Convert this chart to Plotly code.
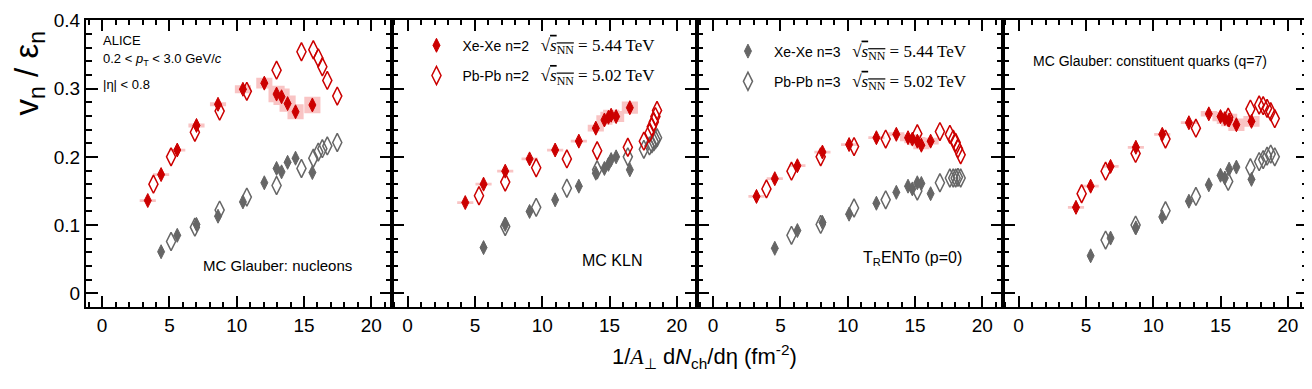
import plotly.graph_objects as go
from plotly.subplots import make_subplots

# model labels, one per panel
models = ["MC Glauber: nucleons", "MC KLN", "T<sub>R</sub>ENTo (p=0)",
          "MC Glauber: constituent quarks (q=7)"]

# Xe-Xe: 1/A dNch/deta per centrality class (n=3 uses classes 2..12)
xe_x = [
    [3.39, 4.38, 5.58, 7.01, 8.61, 10.46, 12.05, 12.96, 13.33, 13.78, 14.37, 15.62],
    [4.28, 5.64, 7.25, 9.06, 10.96, 12.72, 13.98, 14.62, 14.92, 15.12, 15.49, 16.51],
    [3.22, 4.58, 6.26, 8.12, 10.10, 12.13, 13.61, 14.48, 14.80, 15.17, 15.47, 16.16],
    [4.26, 5.35, 6.83, 8.71, 10.67, 12.65, 14.13, 15.00, 15.32, 15.64, 16.18, 17.30],
]
xe_v2 = [
    [0.136, 0.174, 0.210, 0.246, 0.277, 0.299, 0.308, 0.292, 0.288, 0.278, 0.266, 0.276],
    [0.133, 0.160, 0.179, 0.197, 0.210, 0.223, 0.242, 0.254, 0.258, 0.261, 0.259, 0.272],
    [0.142, 0.168, 0.187, 0.207, 0.218, 0.228, 0.233, 0.228, 0.226, 0.223, 0.217, 0.223],
    [0.126, 0.157, 0.186, 0.214, 0.233, 0.250, 0.263, 0.259, 0.256, 0.254, 0.247, 0.252],
]
xe_v2_sys = [
    [0.002, 0.002, 0.002, 0.003, 0.003, 0.006, 0.008, 0.012, 0.012, 0.012, 0.011, 0.012],
    [0.002, 0.002, 0.002, 0.002, 0.002, 0.002, 0.005, 0.007, 0.008, 0.008, 0.008, 0.009],
    [0.002, 0.002, 0.002, 0.002, 0.002, 0.002, 0.003, 0.005, 0.006, 0.006, 0.006, 0.005],
    [0.002, 0.002, 0.002, 0.002, 0.002, 0.002, 0.004, 0.007, 0.008, 0.009, 0.009, 0.008],
]
xe_v3 = [
    [0.061, 0.085, 0.101, 0.113, 0.134, 0.162, 0.183, 0.178, 0.192, 0.198, 0.177],
    [0.067, 0.101, 0.120, 0.137, 0.157, 0.176, 0.183, 0.189, 0.196, 0.200, 0.181],
    [0.066, 0.092, 0.104, 0.116, 0.132, 0.148, 0.157, 0.153, 0.162, 0.161, 0.146],
    [0.055, 0.081, 0.096, 0.112, 0.135, 0.159, 0.173, 0.169, 0.182, 0.185, 0.167],
]

# Pb-Pb
pb_x = [
    [3.81, 5.12, 6.89, 8.73, 10.75, 12.96, 14.81, 15.69, 16.06, 16.36, 16.73, 17.47],
    [5.30, 7.25, 9.55, 11.83, 14.08, 16.36, 17.55, 17.97, 18.14, 18.29, 18.41, 18.53],
    [3.96, 5.82, 7.99, 10.47, 12.82, 15.17, 16.85, 17.59, 17.84, 18.02, 18.19, 18.39],
    [4.68, 6.46, 8.69, 10.91, 13.17, 15.57, 17.22, 17.87, 18.17, 18.46, 18.73, 19.03],
]
pb_v2 = [
    [0.160, 0.200, 0.236, 0.267, 0.296, 0.327, 0.354, 0.357, 0.345, 0.332, 0.312, 0.289],
    [0.143, 0.163, 0.184, 0.197, 0.209, 0.214, 0.223, 0.235, 0.244, 0.251, 0.259, 0.268],
    [0.153, 0.179, 0.200, 0.215, 0.226, 0.234, 0.237, 0.233, 0.226, 0.221, 0.212, 0.203],
    [0.146, 0.179, 0.205, 0.226, 0.242, 0.258, 0.270, 0.276, 0.275, 0.271, 0.266, 0.256],
]
pb_v3 = [
    [0.076, 0.097, 0.122, 0.141, 0.158, 0.183, 0.198, 0.207, 0.212, 0.216, 0.221],
    [0.098, 0.126, 0.154, 0.181, 0.200, 0.211, 0.216, 0.219, 0.222, 0.225, 0.228],
    [0.085, 0.101, 0.125, 0.137, 0.150, 0.162, 0.169, 0.169, 0.169, 0.170, 0.169],
    [0.078, 0.100, 0.121, 0.142, 0.164, 0.184, 0.193, 0.196, 0.201, 0.204, 0.200],
]

RED = "#cc0000"
GREY = "#666666"
PINK = "#f9c4c4"
BOX_W = 0.6
FONT = "Liberation Sans, Arial, sans-serif"
SERIF = "Liberation Serif, Times New Roman, serif"
NB = "\u00a0"

# the page body adds an 8px margin, so the figure is laid out in page pixels minus 8
OFF = 8
W, H = 1312 - OFF, 389 - OFF
# plot area in page pixels
L, R, T, B = 86, 1310, 11, 307


def px(x, y):
    return (x - L) / (R - L), (B - y) / (B - T)


def sqrts(e):
    return (f"<span style='font-family:{SERIF};font-size:17px'>"
            f"√<span style='text-decoration:overline'><i>s</i><sub>NN</sub></span>"
            f" = {e} TeV</span>")


fig = make_subplots(rows=1, cols=4, shared_yaxes=True, horizontal_spacing=0)

for i in range(4):
    col = i + 1
    # systematic boxes for Xe-Xe v2
    bx, by = [], []
    for x, y, s in zip(xe_x[i], xe_v2[i], xe_v2_sys[i]):
        bx += [x - BOX_W, x + BOX_W, x + BOX_W, x - BOX_W, x - BOX_W, None]
        by += [y - s, y - s, y + s, y + s, y - s, None]
    fig.add_trace(go.Scatter(x=bx, y=by, fill="toself", fillcolor=PINK, mode="lines",
                             line=dict(width=0), showlegend=False, hoverinfo="skip"),
                  row=1, col=col)

    fig.add_trace(go.Scatter(x=pb_x[i][1:], y=pb_v3[i], mode="markers",
                             name="Pb-Pb n=3" + NB * 3 + sqrts("5.02"),
                             marker=dict(symbol="diamond-tall-open", size=13, color=GREY,
                                         line=dict(width=1.5, color=GREY)),
                             legend="legend2", legendgroup="pb3", legendrank=2,
                             showlegend=(i == 2)), row=1, col=col)
    fig.add_trace(go.Scatter(x=xe_x[i][1:], y=xe_v3[i], mode="markers",
                             name="Xe-Xe n=3" + NB * 3 + sqrts("5.44"),
                             marker=dict(symbol="diamond-tall", size=10, color=GREY,
                                         line=dict(width=1, color=GREY)),
                             legend="legend2", legendgroup="xe3", legendrank=1,
                             showlegend=(i == 2)), row=1, col=col)
    fig.add_trace(go.Scatter(x=pb_x[i], y=pb_v2[i], mode="markers",
                             name="Pb-Pb n=2" + NB * 3 + sqrts("5.02"),
                             marker=dict(symbol="diamond-tall-open", size=13, color=RED,
                                         line=dict(width=1.5, color=RED)),
                             legend="legend", legendgroup="pb2", legendrank=2,
                             showlegend=(i == 1)), row=1, col=col)
    fig.add_trace(go.Scatter(x=xe_x[i], y=xe_v2[i], mode="markers",
                             name="Xe-Xe n=2" + NB * 3 + sqrts("5.44"),
                             marker=dict(symbol="diamond-tall", size=10, color=RED,
                                         line=dict(width=1, color=RED)),
                             legend="legend", legendgroup="xe2", legendrank=1,
                             showlegend=(i == 1)), row=1, col=col)

fig.update_xaxes(range=[-1.2, 21.5], dtick=5, tick0=0, ticks="inside", ticklen=11,
                 tickwidth=1.5, tickcolor="black", showline=True, linewidth=2,
                 linecolor="black", mirror="allticks", showgrid=False, zeroline=False,
                 minor=dict(dtick=1, ticks="inside", ticklen=5, tickcolor="black"),
                 tickfont=dict(size=19, color="black", family=FONT))
fig.update_yaxes(range=[-0.02, 0.4005], dtick=0.1, tick0=0, ticks="inside", ticklen=12,
                 tickwidth=1.5, tickcolor="black", showline=True, linewidth=2,
                 linecolor="black", mirror="allticks", showgrid=False, zeroline=False,
                 ticklabeloverflow="allow",
                 minor=dict(dtick=0.02, ticks="inside", ticklen=6, tickcolor="black"),
                 tickfont=dict(size=19, color="black", family=FONT))

ann = []
# ALICE block
for txt, yy in [("ALICE", 32), ("0.2 &lt; <i>p</i><sub>T</sub> &lt; 3.0 GeV/<i>c</i>", 52),
                ("|η| &lt; 0.8", 78)]:
    ax, ay = px(101, yy)
    ann.append(dict(text=txt, x=ax, y=ay, xanchor="left", yanchor="middle",
                    font=dict(size=13)))
for txt, xx, yy, anchor, size in [(models[0], 354, 264, "right", 15),
                                  (models[1], 613, 259, "center", 16),
                                  (models[2], 914, 257, "center", 16),
                                  (models[3], 1152, 53, "center", 14)]:
    ax, ay = px(xx, yy)
    ann.append(dict(text=txt, x=ax, y=ay, xanchor=anchor, yanchor="middle",
                    font=dict(size=size)))
# axis titles
ax, ay = px(29, 66)
ann.append(dict(text="v<sub>n</sub> / ε<sub>n</sub>", x=ax, y=ay, textangle=-90,
                xanchor="center", yanchor="middle", font=dict(size=33)))
ax, ay = px(706, 358)
ann.append(dict(text="1/<i><span style='font-family:" + SERIF + "'>A</span></i><sub>⊥</sub>"
                     " d<i>N</i><sub>ch</sub>/dη (fm<sup>-2</sup>)",
                x=ax, y=ay, xanchor="center", yanchor="middle", font=dict(size=22)))
for a in ann:
    a.update(xref="paper", yref="paper", showarrow=False)

lx1, ly1 = px(411, 21)
lx2, ly2 = px(723, 27)
fig.update_layout(
    width=W, height=H,
    margin=dict(l=L - OFF, r=W - (R - OFF), t=T - OFF, b=H - (B - OFF)),
    plot_bgcolor="white", paper_bgcolor="white",
    font=dict(family=FONT, color="black"),
    annotations=ann,
    legend=dict(x=lx1, y=ly1, xanchor="left", yanchor="top", bgcolor="rgba(0,0,0,0)",
                font=dict(size=14), tracegroupgap=9, itemsizing="trace", itemwidth=42),
    legend2=dict(x=lx2, y=ly2, xanchor="left", yanchor="top", bgcolor="rgba(0,0,0,0)",
                 font=dict(size=14), tracegroupgap=9, itemsizing="trace", itemwidth=42),
)

fig.write_html("out.html")
